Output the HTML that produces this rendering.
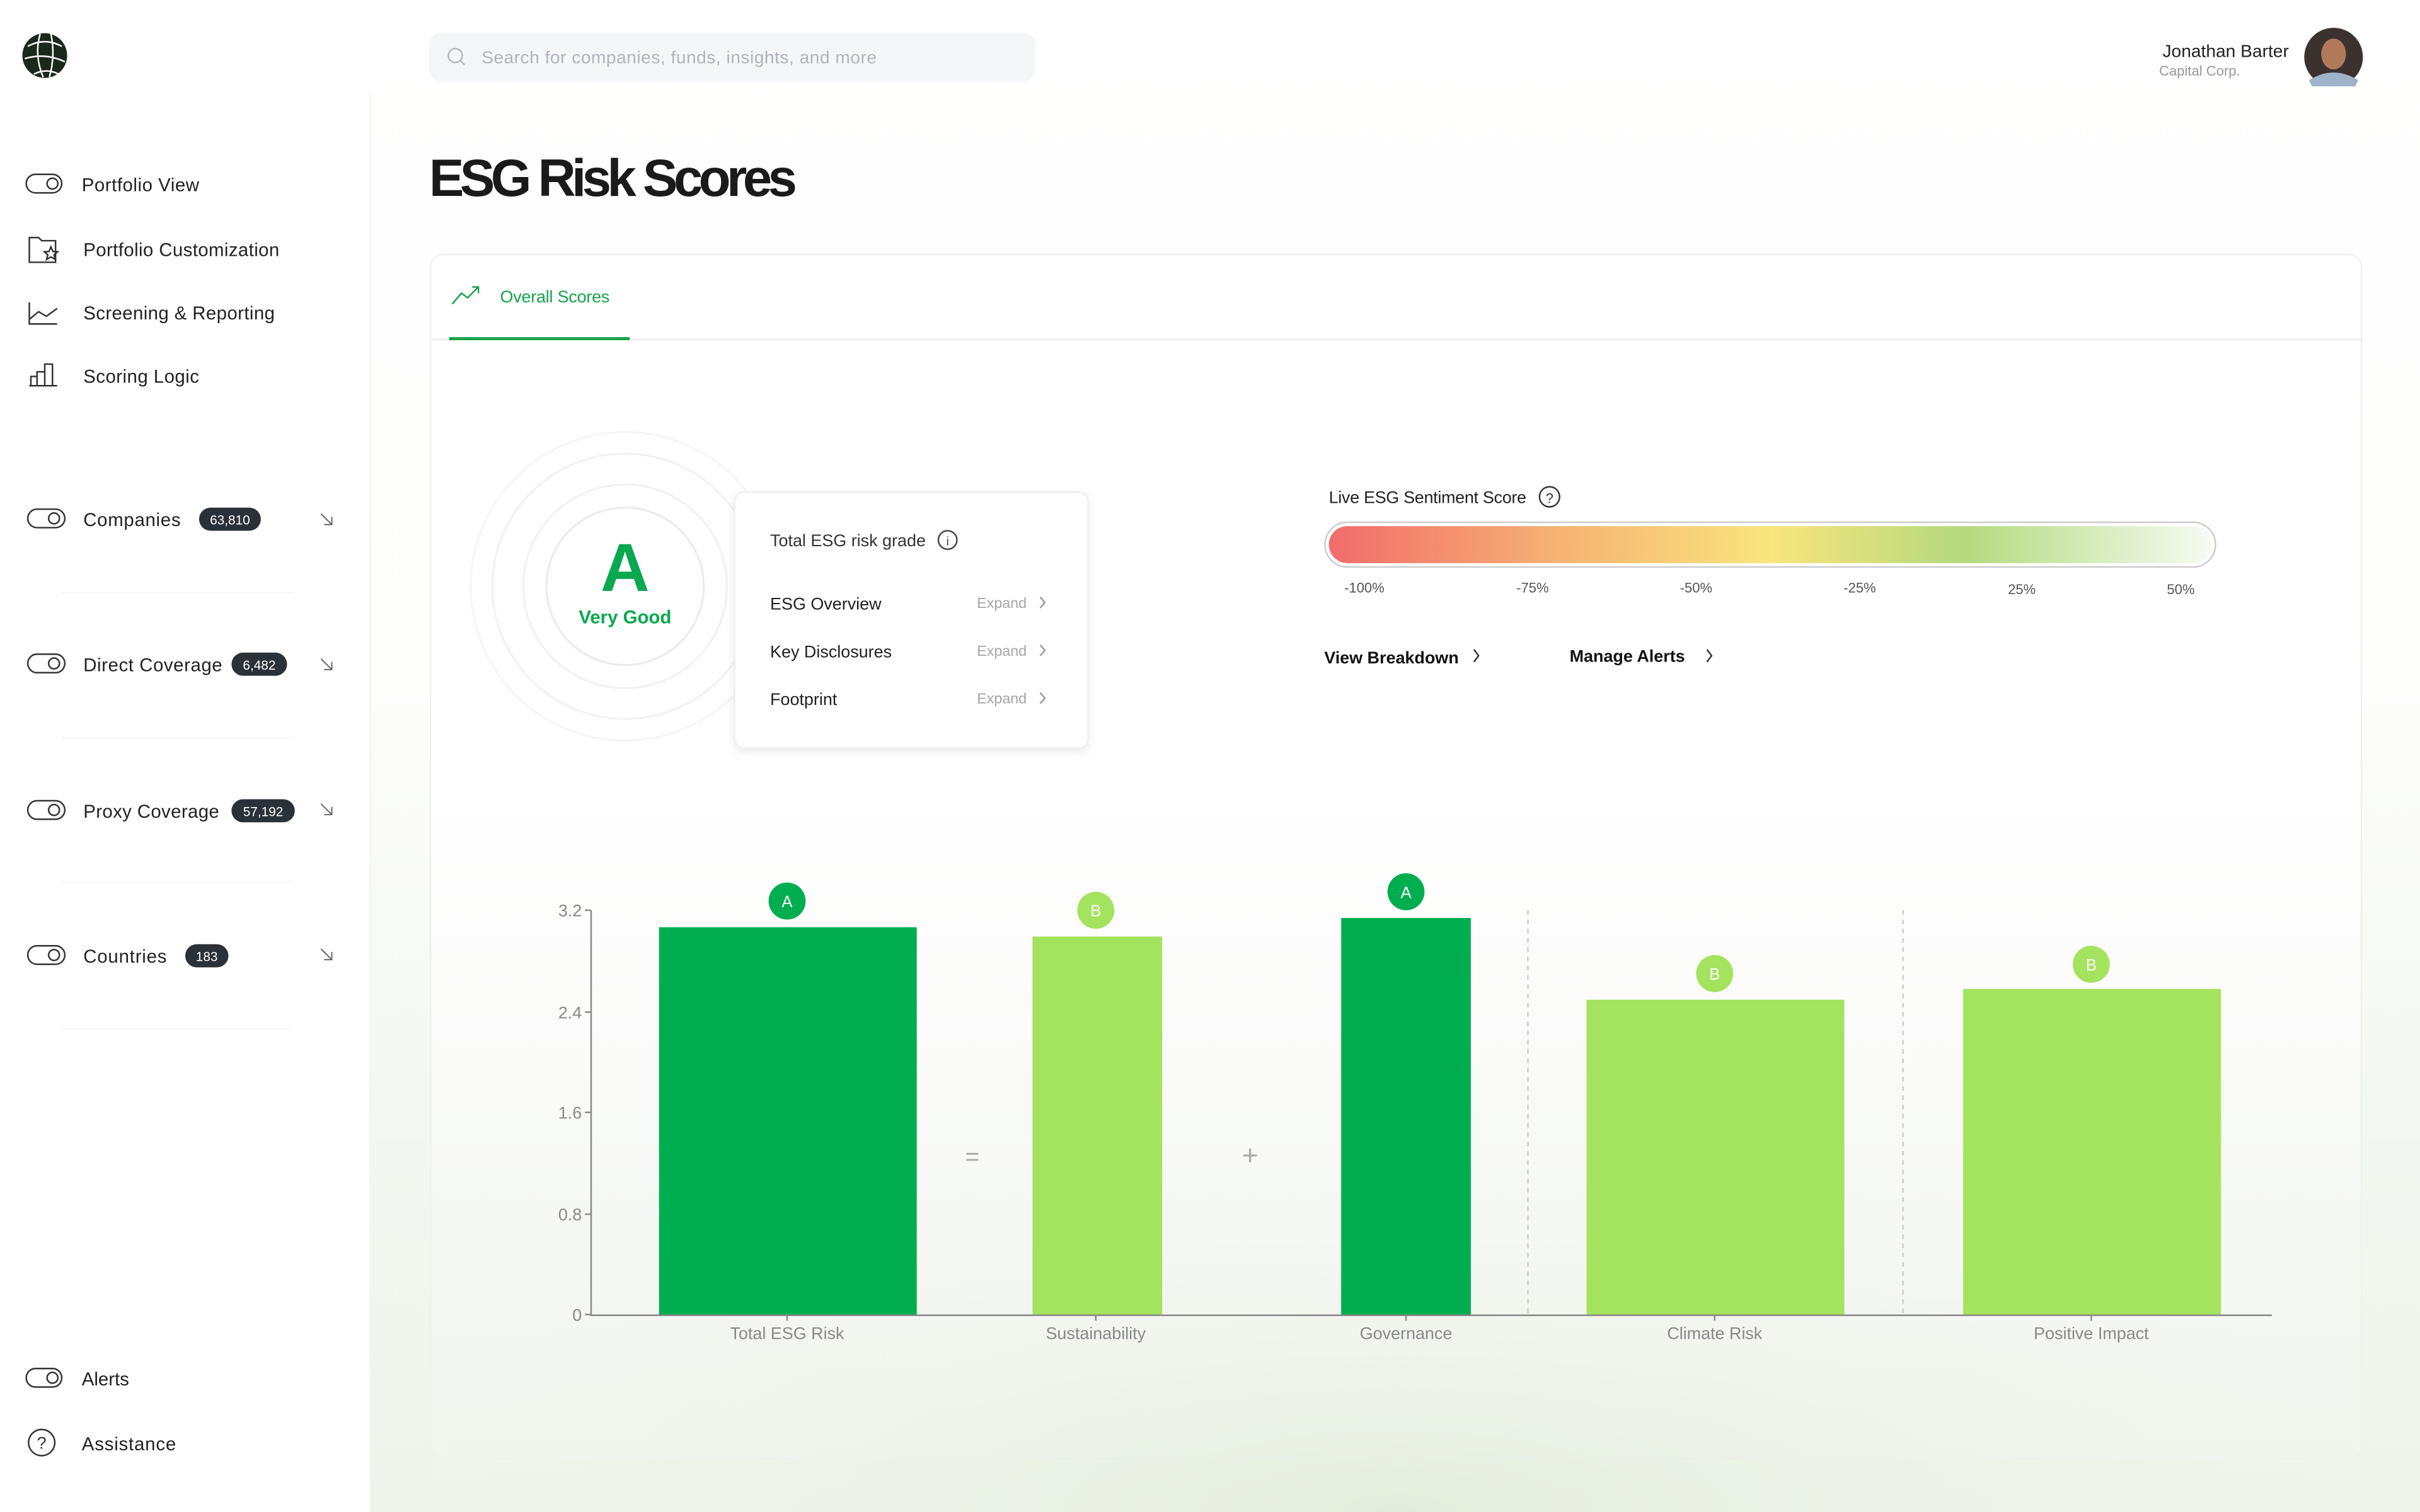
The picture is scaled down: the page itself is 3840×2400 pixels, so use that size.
<!DOCTYPE html>
<html><head><meta charset="utf-8"><style>
html,body{margin:0;padding:0;background:#fff;}
svg{display:block;font-family:"Liberation Sans",sans-serif;}
</style></head><body>
<svg width="3840" height="2400" viewBox="0 0 1568 980" xmlns="http://www.w3.org/2000/svg">
<defs>
<linearGradient id="sent" x1="0" x2="1" y1="0" y2="0">
<stop offset="0" stop-color="#f26b6b"/><stop offset="0.25" stop-color="#f5b073"/><stop offset="0.5" stop-color="#f8e57d"/><stop offset="0.72" stop-color="#b4d97e"/><stop offset="1" stop-color="#f6fbf4"/>
</linearGradient>
<linearGradient id="mainbg" x1="0" x2="0" y1="0" y2="1">
<stop offset="0" stop-color="#ffffff"/><stop offset="0.45" stop-color="#fdfdfc"/><stop offset="0.7" stop-color="#f5f8f3"/><stop offset="1" stop-color="#eef3ea"/>
</linearGradient>
<linearGradient id="cardbg" x1="0" x2="0" y1="0" y2="1">
<stop offset="0" stop-color="#ffffff"/><stop offset="0.45" stop-color="#ffffff"/><stop offset="0.7" stop-color="#f9faf8"/><stop offset="1" stop-color="#f1f5ee"/>
</linearGradient>
<radialGradient id="glow" cx="0.5" cy="1" r="0.6">
<stop offset="0" stop-color="#e3ecdb" stop-opacity="0.9"/><stop offset="1" stop-color="#f5f8f3" stop-opacity="0"/>
</radialGradient>
<filter id="sh" x="-10%" y="-10%" width="120%" height="130%"><feDropShadow dx="0" dy="2" stdDeviation="3" flood-color="#000" flood-opacity="0.08"/></filter>
</defs>
<rect x="240" y="0" width="1328" height="980" fill="url(#mainbg)"/>
<rect x="279" y="165" width="1251" height="780" rx="8" fill="url(#cardbg)" stroke="#f0f1ef"/>
<rect x="280" y="600" width="1249" height="380" fill="url(#glow)"/>
<!-- sidebar -->
<rect x="0" y="0" width="240" height="980" fill="#fff"/>
<line x1="240" y1="60" x2="240" y2="980" stroke="#f3f4f2" stroke-width="1"/>
<circle cx="29" cy="36" r="14.5" fill="#1a2a1a"/>
<path d="M18 30 Q29 24 40 30 M16 38 Q29 34 42 40 M22 48 Q30 44 38 48 M26 22 Q22 36 28 50 M33 22 Q36 36 32 50" stroke="#fff" stroke-width="1" fill="none"/>
<g font-size="12" fill="#222">
<g fill="none" stroke="#333" stroke-width="1">
<rect x="17" y="113" width="23" height="12" rx="6"/><circle cx="34" cy="119" r="3.5"/>
<path d="M19 154 h6 l2 2 h9 v14 h-17 z"/><path d="M33 160 l1.3 3 3 .2 -2.3 2 .8 3 -2.8-1.7 -2.8 1.7 .8-3 -2.3-2 3-.2z"/>
<path d="M19 196 v14 h18 M19 207 l6-5 5 3 7-5"/>
<path d="M19 250 h18 M20 250 v-6 h4 v6 M24 250 v-9 h5 v9 M29 250 v-14 h5 v14"/>
<rect x="18" y="330" width="24" height="12" rx="6"/><circle cx="35" cy="336" r="3.5"/>
<rect x="18" y="424" width="24" height="12" rx="6"/><circle cx="35" cy="430" r="3.5"/>
<rect x="18" y="519" width="24" height="12" rx="6"/><circle cx="35" cy="525" r="3.5"/>
<rect x="18" y="613" width="24" height="12" rx="6"/><circle cx="35" cy="619" r="3.5"/>
<rect x="17" y="887" width="23" height="12" rx="6"/><circle cx="34" cy="893" r="3.5"/>
<circle cx="27" cy="935" r="8.5"/>
<path d="M208 333 l7 7 M215 335 v5 h-5 M208 427 l7 7 M215 429 v5 h-5 M208 521 l7 7 M215 523 v5 h-5 M208 615 l7 7 M215 617 v5 h-5" stroke="#666" stroke-width="0.8"/>
</g>
<text x="27" y="939" font-size="11" text-anchor="middle" fill="#333">?</text>
<text x="53" y="124" textLength="76">Portfolio View</text>
<text x="54" y="166" textLength="127">Portfolio Customization</text>
<text x="54" y="207" textLength="124">Screening &amp; Reporting</text>
<text x="54" y="248" textLength="75">Scoring Logic</text>
<text x="54" y="341" textLength="63">Companies</text>
<text x="54" y="435" textLength="90">Direct Coverage</text>
<text x="54" y="530" textLength="88">Proxy Coverage</text>
<text x="54" y="624" textLength="54">Countries</text>
<text x="53" y="898">Alerts</text>
<text x="53" y="940" textLength="61">Assistance</text>
</g>
<g font-size="8.5" fill="#fff" text-anchor="middle">
<rect x="129" y="329" width="40" height="15" rx="7.5" fill="#2b3138"/><text x="149" y="340">63,810</text>
<rect x="150" y="423" width="36" height="15" rx="7.5" fill="#2b3138"/><text x="168" y="434">6,482</text>
<rect x="150" y="518" width="41" height="15" rx="7.5" fill="#2b3138"/><text x="170.5" y="529">57,192</text>
<rect x="120" y="612" width="28" height="15" rx="7.5" fill="#2b3138"/><text x="134" y="623">183</text>
</g>
<g stroke="#f6f6f6" stroke-width="1">
<line x1="40" y1="384" x2="190" y2="384"/><line x1="40" y1="478" x2="190" y2="478"/><line x1="40" y1="572" x2="190" y2="572"/><line x1="40" y1="667" x2="190" y2="667"/>
</g>
<!-- header -->
<rect x="278" y="21" width="393" height="32" rx="8" fill="#f5f6f8"/>
<circle cx="295" cy="36" r="4.5" fill="none" stroke="#b5b8bd" stroke-width="1"/><line x1="298.5" y1="39.5" x2="301" y2="42" stroke="#b5b8bd"/>
<text x="312" y="41" font-size="11.5" fill="#b0b4ba" textLength="256">Search for companies, funds, insights, and more</text>
<text x="1483" y="37" font-size="11.5" fill="#222" text-anchor="end">Jonathan Barter</text>
<text x="1399" y="49" font-size="9" fill="#999">Capital Corp.</text>
<circle cx="1512" cy="37" r="19" fill="#3b3230"/>
<ellipse cx="1512" cy="35" rx="8" ry="10" fill="#b07a5a"/>
<path d="M1496 52 Q1512 42 1528 52 L1526 56 L1498 56Z" fill="#9fb3c8"/>
<text x="278" y="127" font-size="34" font-weight="bold" fill="#1a1a1a" letter-spacing="-1.5" textLength="237">ESG Risk Scores</text>
<!-- card top -->
<line x1="280" y1="220" x2="1530" y2="220" stroke="#ececec"/>
<line x1="291" y1="219.5" x2="408" y2="219.5" stroke="#16a34a" stroke-width="2"/>
<path d="M293 197 l6-7 4 3 7-7 M306 186 h4 v4" fill="none" stroke="#16a34a" stroke-width="1"/>
<text x="324" y="196" font-size="11" fill="#16a34a" textLength="71">Overall Scores</text>
<g fill="none" stroke="#f1f1f1" stroke-width="1.2">
<circle cx="405" cy="380" r="100" stroke="#f5f5f5"/><circle cx="405" cy="380" r="86"/><circle cx="405" cy="380" r="66"/><circle cx="405" cy="380" r="51" stroke="#eaeaea"/>
</g>
<text x="405" y="383" font-size="44" font-weight="bold" fill="#0aa84f" text-anchor="middle">A</text>
<text x="405" y="404" font-size="12" font-weight="bold" fill="#0aa84f" text-anchor="middle">Very Good</text>
<rect x="476" y="319" width="229" height="166" rx="6" fill="#fff" stroke="#efefef" filter="url(#sh)"/>
<g font-size="11" fill="#222">
<text x="499" y="354" fill="#333">Total ESG risk grade</text>
<text x="499" y="395">ESG Overview</text>
<text x="499" y="426">Key Disclosures</text>
<text x="499" y="457">Footprint</text>
</g>
<circle cx="614" cy="350" r="6" fill="none" stroke="#444"/><text x="614" y="353.5" font-size="8" text-anchor="middle" fill="#444">i</text>
<g font-size="9.5" fill="#a5a5a5"><text x="633" y="394">Expand</text><text x="633" y="425">Expand</text><text x="633" y="456">Expand</text></g>
<path d="M674 387 l3 3.5 -3 3.5 M674 418 l3 3.5 -3 3.5 M674 449 l3 3.5 -3 3.5" fill="none" stroke="#999"/>
<text x="861" y="326" font-size="11" fill="#222" textLength="128">Live ESG Sentiment Score</text>
<circle cx="1004" cy="322" r="6.5" fill="none" stroke="#333"/><text x="1004" y="326" font-size="9" text-anchor="middle" fill="#333">?</text>
<rect x="858.5" y="338.5" width="577" height="29" rx="14.5" fill="#fff" stroke="#ccc"/>
<rect x="861" y="341" width="572" height="24" rx="12" fill="url(#sent)"/>
<g font-size="9" fill="#555" text-anchor="middle">
<text x="884" y="384">-100%</text><text x="993" y="384">-75%</text><text x="1099" y="384">-50%</text><text x="1205" y="384">-25%</text><text x="1310" y="385">25%</text><text x="1413" y="385">50%</text>
</g>
<text x="858" y="430" font-size="11" font-weight="bold" fill="#111">View Breakdown</text>
<text x="1017" y="429" font-size="11" font-weight="bold" fill="#111">Manage Alerts</text>
<path d="M955 421 l3 4 -3 4 M1106 421 l3 4 -3 4" fill="none" stroke="#333"/>
<!-- chart -->
<g stroke="#ccc" stroke-dasharray="3,3"><line x1="990" y1="590" x2="990" y2="852"/><line x1="1233" y1="590" x2="1233" y2="852"/></g>
<rect x="427" y="601" width="167" height="251" fill="#00ae4f"/>
<rect x="669" y="607" width="84" height="245" fill="#a3e35e"/>
<rect x="869" y="595" width="84" height="257" fill="#00ae4f"/>
<rect x="1028" y="648" width="167" height="204" fill="#a3e35e"/>
<rect x="1272" y="641" width="167" height="211" fill="#a3e35e"/>
<line x1="383" y1="590" x2="383" y2="853" stroke="#888"/>
<line x1="383" y1="852.5" x2="1472" y2="852.5" stroke="#888"/>
<g stroke="#888"><line x1="379" y1="590" x2="383" y2="590"/><line x1="379" y1="656" x2="383" y2="656"/><line x1="379" y1="721" x2="383" y2="721"/><line x1="379" y1="787" x2="383" y2="787"/><line x1="379" y1="852" x2="383" y2="852"/>
<line x1="510" y1="852" x2="510" y2="856"/><line x1="710" y1="852" x2="710" y2="856"/><line x1="911" y1="852" x2="911" y2="856"/><line x1="1111" y1="852" x2="1111" y2="856"/><line x1="1355" y1="852" x2="1355" y2="856"/></g>
<g font-size="11" fill="#888" text-anchor="end">
<text x="377" y="594">3.2</text><text x="377" y="660">2.4</text><text x="377" y="725">1.6</text><text x="377" y="791">0.8</text><text x="377" y="856">0</text>
</g>
<g font-size="11" fill="#888" text-anchor="middle">
<text x="510" y="868">Total ESG Risk</text><text x="710" y="868">Sustainability</text><text x="911" y="868">Governance</text><text x="1111" y="868">Climate Risk</text><text x="1355" y="868">Positive Impact</text>
</g>
<text x="630" y="755" font-size="16" fill="#aaa" text-anchor="middle">=</text>
<text x="810" y="755" font-size="18" fill="#aaa" text-anchor="middle">+</text>
<g font-size="10.5" fill="#fff" text-anchor="middle">
<circle cx="510" cy="584" r="12" fill="#00ae4f"/><text x="510" y="588">A</text>
<circle cx="710" cy="590" r="12" fill="#a3e35e"/><text x="710" y="594">B</text>
<circle cx="911" cy="578" r="12" fill="#00ae4f"/><text x="911" y="582">A</text>
<circle cx="1111" cy="631" r="12" fill="#a3e35e"/><text x="1111" y="635">B</text>
<circle cx="1355" cy="625" r="12" fill="#a3e35e"/><text x="1355" y="629">B</text>
</g>
</svg>
</body></html>
